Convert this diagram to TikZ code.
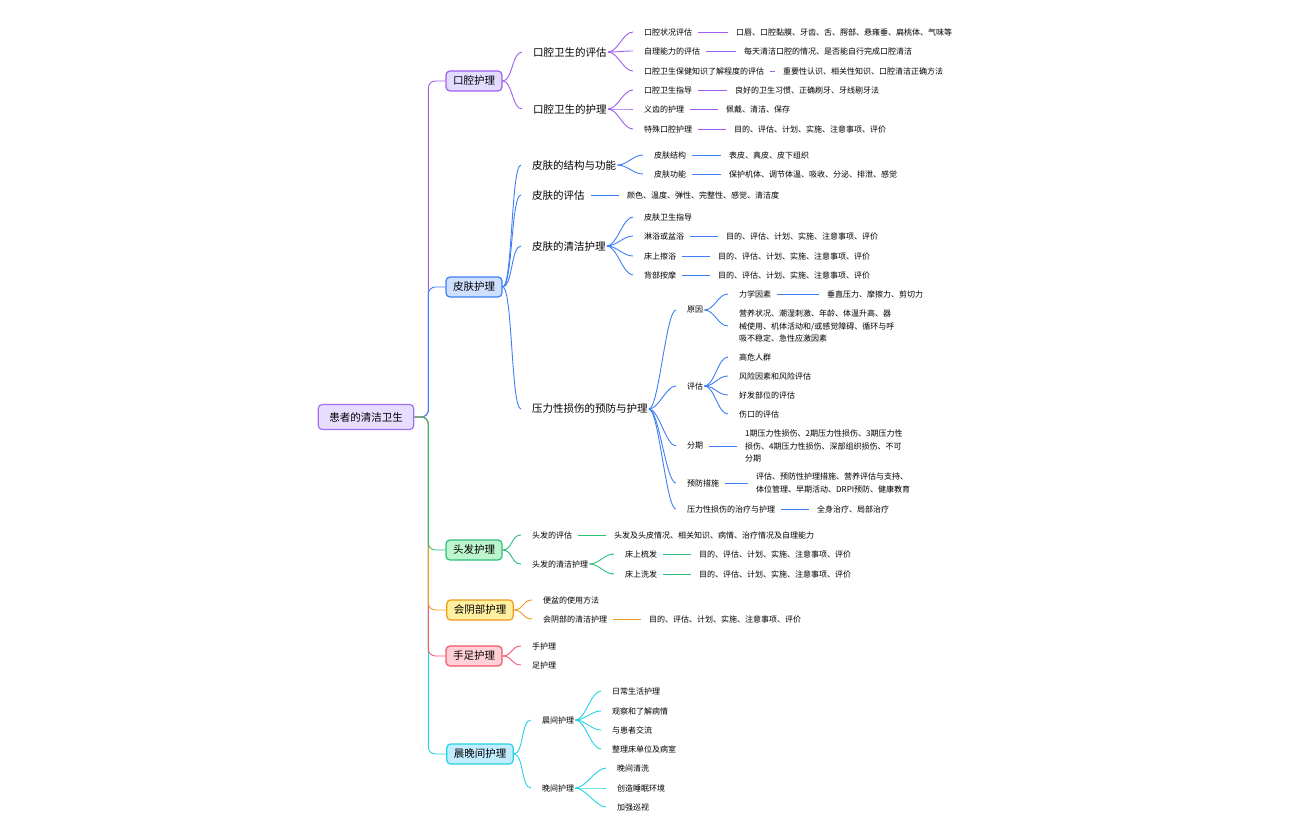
\documentclass[tikz,border=0pt]{standalone}
\usepackage{fontspec}
\setmainfont{Noto Sans CJK SC}
\usetikzlibrary{calc}
\definecolor{cA}{HTML}{9F5FF0}\definecolor{fA}{HTML}{E2DDFF}
\definecolor{cB}{HTML}{3D7EF5}\definecolor{fB}{HTML}{CFE0FF}
\definecolor{cC}{HTML}{2DBE7A}\definecolor{fC}{HTML}{BDF5CC}
\definecolor{cD}{HTML}{EE9A1A}\definecolor{fD}{HTML}{FFF0A0}
\definecolor{cE}{HTML}{F0586A}\definecolor{fE}{HTML}{FFD0D8}
\definecolor{cF}{HTML}{22D3E3}\definecolor{fF}{HTML}{C2ECFF}
\definecolor{cR}{HTML}{A070F0}\definecolor{fR}{HTML}{E6DDFF}
\tikzset{
 box/.style={draw=#1, line width=1.2pt, rounded corners=4pt, minimum height=20pt, inner xsep=7pt, font=\fontsize{10.5}{12}\selectfont},
 t2/.style={anchor=west, inner sep=1pt, font=\fontsize{10.5}{12}\selectfont},
 t3/.style={anchor=west, inner sep=1pt, font=\fontsize{8}{12.5}\selectfont, align=left},
 cn/.style={line width=0.9pt}
}
\newcommand\crv[2]{\draw[cn] (#1.east) .. controls +(10,0) and +(-10,0) .. ($(#2.west)+(-10,0)$);}
\newcommand\lnk[2]{\draw[cn] ($(#1.east)+(5,0)$) -- ($(#2.west)+(-7,0)$);}
\newcommand\trk[1]{\draw[cn,rounded corners=7pt] (r.east) -- ++(14,0) |- (#1.west);}
\begin{document}
\begin{tikzpicture}[x=1pt,y=-1pt]
\useasboundingbox (0,0) rectangle (1296,840);
\node[box=cR, fill=fR, minimum height=25pt, inner xsep=11pt] (r) at (366,417) {患者的清洁卫生};
\node[box=cA, fill=fA] (A) at (474,81) {口腔护理};
\node[box=cB, fill=fB] (B) at (474,287) {皮肤护理};
\node[box=cC, fill=fC] (C) at (474,550) {头发护理};
\node[box=cD, fill=fD] (D) at (480,610) {会阴部护理};
\node[box=cE, fill=fE] (E) at (474,656) {手足护理};
\node[box=cF, fill=fF] (F) at (480,754) {晨晚间护理};
\begin{scope}[cA]\trk{A}\end{scope}
\begin{scope}[cB]\trk{B}\end{scope}
\begin{scope}[cF]\trk{F}\end{scope}
\begin{scope}[cE]\trk{E}\end{scope}
\begin{scope}[cD]\trk{D}\end{scope}
\begin{scope}[cC]\trk{C}\end{scope}
% ---- A
\node[t2] (A1) at (532,52) {口腔卫生的评估};
\node[t2] (A2) at (532,109) {口腔卫生的护理};
\node[t3] (A11) at (643,32) {口腔状况评估};
\node[t3] (A12) at (643,51) {自理能力的评估};
\node[t3] (A13) at (643,71) {口腔卫生保健知识了解程度的评估};
\node[t3] (A111) at (735,32) {口唇、口腔黏膜、牙齿、舌、腭部、悬雍垂、扁桃体、气味等};
\node[t3] (A121) at (743,51) {每天清洁口腔的情况、是否能自行完成口腔清洁};
\node[t3] (A131) at (782,71) {重要性认识、相关性知识、口腔清洁正确方法};
\node[t3] (A21) at (643,90) {口腔卫生指导};
\node[t3] (A22) at (643,109) {义齿的护理};
\node[t3] (A23) at (643,129) {特殊口腔护理};
\node[t3] (A211) at (734,90) {良好的卫生习惯、正确刷牙、牙线剔牙法};
\node[t3] (A221) at (725,109) {佩戴、清洁、保存};
\node[t3] (A231) at (733,129) {目的、评估、计划、实施、注意事项、评价};
\begin{scope}[cA]
\foreach \a/\b in {A/A1,A/A2,A1/A11,A1/A12,A1/A13,A2/A21,A2/A22,A2/A23}{\crv{\a}{\b}}
\foreach \a/\b in {A11/A111,A12/A121,A13/A131,A21/A211,A22/A221,A23/A231}{\lnk{\a}{\b}}
\end{scope}
% ---- B
\node[t2] (B1) at (531,165) {皮肤的结构与功能};
\node[t2] (B2) at (531,195) {皮肤的评估};
\node[t2] (B3) at (531,246) {皮肤的清洁护理};
\node[t2] (B4) at (531,409) {压力性损伤的预防与护理};
\node[t3] (B11) at (653,155) {皮肤结构};
\node[t3] (B12) at (653,174) {皮肤功能};
\node[t3] (B111) at (728,155) {表皮、真皮、皮下组织};
\node[t3] (B121) at (728,174) {保护机体、调节体温、吸收、分泌、排泄、感觉};
\node[t3] (B21) at (626,195) {颜色、温度、弹性、完整性、感觉、清洁度};
\node[t3] (B31) at (643,217) {皮肤卫生指导};
\node[t3] (B32) at (643,236) {淋浴或盆浴};
\node[t3] (B33) at (643,256) {床上擦浴};
\node[t3] (B34) at (643,275) {背部按摩};
\node[t3] (B321) at (725,236) {目的、评估、计划、实施、注意事项、评价};
\node[t3] (B331) at (717,256) {目的、评估、计划、实施、注意事项、评价};
\node[t3] (B341) at (717,275) {目的、评估、计划、实施、注意事项、评价};
\node[t3] (B41) at (686,310) {原因};
\node[t3] (B42) at (686,386) {评估};
\node[t3] (B43) at (686,446) {分期};
\node[t3] (B44) at (686,483) {预防措施};
\node[t3] (B45) at (686,509) {压力性损伤的治疗与护理};
\node[t3] (B411) at (738,294) {力学因素};
\node[t3] (B4111) at (826,294) {垂直压力、摩擦力、剪切力};
\node[t3] (B412) at (738,326) {营养状况、潮湿刺激、年龄、体温升高、器\\械使用、机体活动和/或感觉障碍、循环与呼\\吸不稳定、急性应激因素};
\node[t3] (B421) at (738,357) {高危人群};
\node[t3] (B422) at (738,376) {风险因素和风险评估};
\node[t3] (B423) at (738,395) {好发部位的评估};
\node[t3] (B424) at (738,414) {伤口的评估};
\node[t3] (B431) at (744,446) {1期压力性损伤、2期压力性损伤、3期压力性\\损伤、4期压力性损伤、深部组织损伤、不可\\分期};
\node[t3] (B441) at (755,483) {评估、预防性护理措施、营养评估与支持、\\体位管理、早期活动、DRPI预防、健康教育};
\node[t3] (B451) at (816,509) {全身治疗、局部治疗};
\begin{scope}[cB]
\foreach \a/\b in {B/B1,B/B2,B/B3,B/B4,B1/B11,B1/B12,B3/B31,B3/B32,B3/B33,B3/B34,B4/B41,B4/B42,B4/B43,B4/B44,B4/B45,B41/B411,B41/B412,B42/B421,B42/B422,B42/B423,B42/B424}{\crv{\a}{\b}}
\foreach \a/\b in {B11/B111,B12/B121,B2/B21,B32/B321,B33/B331,B34/B341,B411/B4111,B43/B431,B44/B441,B45/B451}{\lnk{\a}{\b}}
\end{scope}
% ---- C
\node[t3] (C1) at (531,535) {头发的评估};
\node[t3] (C2) at (531,564) {头发的清洁护理};
\node[t3] (C11) at (613,535) {头发及头皮情况、相关知识、病情、治疗情况及自理能力};
\node[t3] (C21) at (624,554) {床上梳发};
\node[t3] (C22) at (624,574) {床上洗发};
\node[t3] (C211) at (698,554) {目的、评估、计划、实施、注意事项、评价};
\node[t3] (C221) at (698,574) {目的、评估、计划、实施、注意事项、评价};
\begin{scope}[cC]
\foreach \a/\b in {C/C1,C/C2,C2/C21,C2/C22}{\crv{\a}{\b}}
\foreach \a/\b in {C1/C11,C21/C211,C22/C221}{\lnk{\a}{\b}}
\end{scope}
% ---- D
\node[t3] (D1) at (542,600) {便盆的使用方法};
\node[t3] (D2) at (542,619) {会阴部的清洁护理};
\node[t3] (D21) at (648,619) {目的、评估、计划、实施、注意事项、评价};
\begin{scope}[cD]
\foreach \a/\b in {D/D1,D/D2}{\crv{\a}{\b}}
\lnk{D2}{D21}
\end{scope}
% ---- E
\node[t3] (E1) at (531,646) {手护理};
\node[t3] (E2) at (531,665) {足护理};
\begin{scope}[cE]
\foreach \a/\b in {E/E1,E/E2}{\crv{\a}{\b}}
\end{scope}
% ---- F
\node[t3] (F1) at (541,720) {晨间护理};
\node[t3] (F2) at (541,788) {晚间护理};
\node[t3] (F11) at (611,691) {日常生活护理};
\node[t3] (F12) at (611,711) {观察和了解病情};
\node[t3] (F13) at (611,730) {与患者交流};
\node[t3] (F14) at (611,749) {整理床单位及病室};
\node[t3] (F21) at (616,768) {晚间清洗};
\node[t3] (F22) at (616,788) {创造睡眠环境};
\node[t3] (F23) at (616,807) {加强巡视};
\begin{scope}[cF]
\foreach \a/\b in {F/F1,F/F2,F1/F11,F1/F12,F1/F13,F1/F14,F2/F21,F2/F22,F2/F23}{\crv{\a}{\b}}
\end{scope}
\end{tikzpicture}
\end{document}
